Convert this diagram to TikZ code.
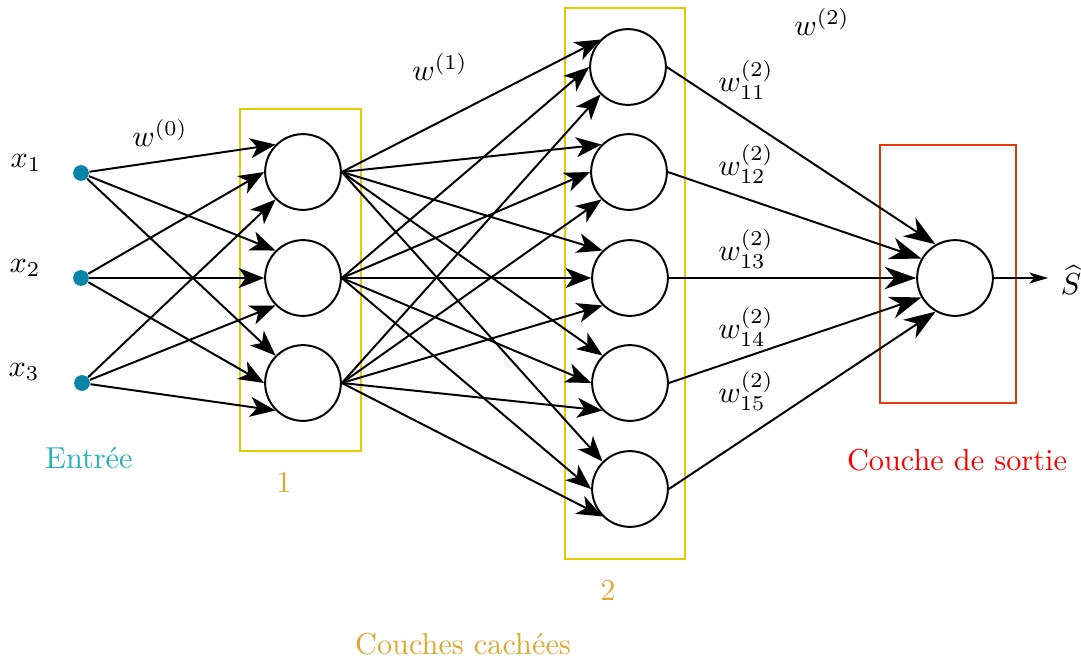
\documentclass[tikz,border=0pt]{standalone}
\usepackage{fontspec}
\usetikzlibrary{arrows.meta}
\definecolor{dotc}{HTML}{0A84A8}
\definecolor{entc}{HTML}{22B5B8}
\definecolor{yboxc}{HTML}{E8CA00}
\definecolor{goldc}{HTML}{E0A830}
\definecolor{rboxc}{HTML}{E8380E}
\begin{document}
\begin{tikzpicture}[x=0.33pt,y=-0.33pt,
  neuron/.style={circle,draw,line width=0.65pt,minimum size=25pt,inner sep=0pt},
  indot/.style={circle,fill=dotc,minimum size=5.2pt,inner sep=0pt},
  big/.style={line width=0.65pt,-{Stealth[length=8.4pt,width=6.6pt,inset=2.3pt]}},
  bigger/.style={line width=0.65pt,-{Stealth[length=10.4pt,width=7.4pt,inset=3.2pt]}},
  small/.style={line width=0.65pt,-{Stealth[length=6.2pt,width=3.6pt,inset=1.6pt]}},
  ybox/.style={draw=yboxc,line width=0.7pt},
  rbox/.style={draw=rboxc,line width=0.7pt},
  lbl/.style={inner sep=0pt}]
\useasboundingbox (0,0) rectangle (1081,666);
% boxes
\draw[ybox] (240,109) rectangle (361,451);
\draw[ybox] (565,8) rectangle (685,559);
\draw[rbox] (880,145) rectangle (1016,403);
% inputs
\node[indot] (i1) at (81,173) {};
\node[indot] (i2) at (81,278) {};
\node[indot] (i3) at (82,383) {};
\node[lbl] (lx1) at (26,163) {$x_1$};
\node[lbl] (lx2) at (25,268) {$x_2$};
\node[lbl] (lx3) at (24,372) {$x_3$};
% hidden 1
\node[neuron] (a1) at (303,172) {};
\node[neuron] (a2) at (303,278) {};
\node[neuron] (a3) at (303,383) {};
% hidden 2
\node[neuron] (b1) at (628,67) {};
\node[neuron] (b2) at (629,172) {};
\node[neuron] (b3) at (630,278) {};
\node[neuron] (b4) at (630,383) {};
\node[neuron] (b5) at (630,489) {};
% output
\node[neuron] (o) at (955,278) {};
\node[inner sep=4pt] (s) at (1071,280) {$\widehat{S}$};
% edges
\foreach \j/\ang in {1/135,2/180,3/225}
  \foreach \i in {1,2,3}
    \draw[big] (i\j) -- (a\i.\ang);
\foreach \i/\ang in {1/135,2/180,3/225}
  \foreach \j in {1,...,5}
    \draw[big] (a\i.east) -- (b\j.\ang);
\foreach \j/\ang in {1/120,2/150,3/180,4/210,5/240}
  \draw[bigger] (b\j.east) -- (o.\ang);
\draw[small] (o.east) -- (s.west |- o.east);
% weight labels
\node[lbl] (w0) at (160,133) {$w^{(0)}$};
\node[lbl] (w1) at (440,67) {$w^{(1)}$};
\node[lbl] (w2) at (822,22) {$w^{(2)}$};
\node[lbl] (w11) at (746,80) {$w_{11}^{(2)}$};
\node[lbl] (w12) at (746,164) {$w_{12}^{(2)}$};
\node[lbl] (w13) at (746,249) {$w_{13}^{(2)}$};
\node[lbl] (w14) at (746,327) {$w_{14}^{(2)}$};
\node[lbl] (w15) at (746,391) {$w_{15}^{(2)}$};
% layer labels
\node[lbl,text=entc] (lin) at (89,458) {Entrée};
\node[lbl,text=goldc] (l1) at (284,482) {1};
\node[lbl,text=goldc] (l2) at (608,590) {2};
\node[lbl,text=goldc] (lh) at (463,644) {Couches cachées};
\node[lbl,text=red] (lo) at (957,460) {Couche de sortie};
\end{tikzpicture}
\end{document}
